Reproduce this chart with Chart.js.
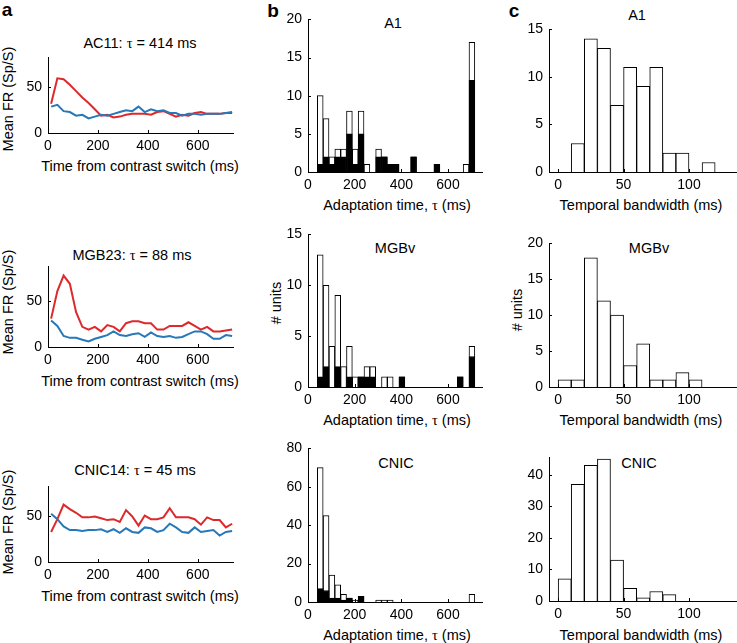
<!DOCTYPE html>
<html>
<head>
<meta charset="utf-8">
<script src="https://cdn.jsdelivr.net/npm/chart.js@4.4.1/dist/chart.umd.min.js"></script>
<style>
  body { margin: 0; background: #fff; }
  #fig { position: relative; width: 737px; height: 643px; overflow: hidden; font-family: "Liberation Sans", Arial, sans-serif; color: #000; }
  #fig canvas { position: absolute; }
  .t { position: absolute; transform: translate(-50%, -50%); white-space: nowrap; font-size: 14.5px; line-height: 1; }
  .v { transform: translate(-50%, -50%) rotate(-90deg); }
  .tau { font-family: "Liberation Serif", "Times New Roman", serif; }
  .lt { font-weight: bold; font-size: 19px; }
</style>
</head>
<body>
<div id="fig">
  <div class="t lt" style="left:7px;top:8.5px">a</div>
  <div class="t lt" style="left:273px;top:10px">b</div>
  <div class="t lt" style="left:514px;top:9.5px">c</div>

  <div class="t" style="left:140px;top:43px">AC11: <span class="tau">τ</span> = 414 ms</div>
  <div class="t" style="left:132px;top:255px">MGB23: <span class="tau">τ</span> = 88 ms</div>
  <div class="t" style="left:135px;top:470px">CNIC14: <span class="tau">τ</span> = 45 ms</div>
  <div class="t" style="left:140px;top:166px">Time from contrast switch (ms)</div>
  <div class="t" style="left:140px;top:381px">Time from contrast switch (ms)</div>
  <div class="t" style="left:140px;top:596px">Time from contrast switch (ms)</div>
  <div class="t v" style="left:7.5px;top:99px">Mean FR (Sp/S)</div>
  <div class="t v" style="left:7.5px;top:302px">Mean FR (Sp/S)</div>
  <div class="t v" style="left:7.5px;top:522px">Mean FR (Sp/S)</div>

  <div class="t" style="left:393px;top:23px">A1</div>
  <div class="t" style="left:395px;top:248px">MGBv</div>
  <div class="t" style="left:396px;top:463px">CNIC</div>
  <div class="t" style="left:397px;top:204.5px">Adaptation time, <span class="tau">τ</span> (ms)</div>
  <div class="t" style="left:397px;top:420px">Adaptation time, <span class="tau">τ</span> (ms)</div>
  <div class="t" style="left:397px;top:634.5px">Adaptation time, <span class="tau">τ</span> (ms)</div>
  <div class="t v" style="left:276px;top:303px"># units</div>

  <div class="t" style="left:637px;top:15px">A1</div>
  <div class="t" style="left:649px;top:248px">MGBv</div>
  <div class="t" style="left:639px;top:463px">CNIC</div>
  <div class="t" style="left:641px;top:204.5px">Temporal bandwidth (ms)</div>
  <div class="t" style="left:641px;top:420px">Temporal bandwidth (ms)</div>
  <div class="t" style="left:641px;top:634.5px">Temporal bandwidth (ms)</div>
  <div class="t v" style="left:517px;top:310px"># units</div>
</div>

<script>
// panel a: mean firing rate per 25 ms bin, high contrast (red) and low contrast (blue)
const timeBins = [12.5, 37.5, 62.5, 87.5, 112.5, 137.5, 162.5, 187.5, 212.5, 237.5,
  262.5, 287.5, 312.5, 337.5, 362.5, 387.5, 412.5, 437.5, 462.5, 487.5,
  512.5, 537.5, 562.5, 587.5, 612.5, 637.5, 662.5, 687.5, 712.5, 737.5];
const ac11High = [32, 60, 59, 53, 46, 39, 33, 26, 19, 20, 17, 18, 20, 21, 21, 21, 20, 23, 24, 21, 18, 20, 19, 22, 23, 21, 21, 21, 22, 22];
const ac11Low = [29, 31, 24, 23, 19, 20, 16, 18, 20, 19, 21, 23, 25, 24, 29, 23, 26, 24, 25, 22, 22, 19, 21, 21, 20, 21, 21, 21, 22, 23];
const mgb23High = [31, 61, 78, 69, 38, 22, 19, 22, 17, 24, 22, 17, 26, 28, 28, 26, 26, 19, 19, 23, 23, 23, 27, 23, 19, 22, 17, 17, 18, 19];
const mgb23Low = [29, 23, 12, 10, 10, 8, 6, 9, 11, 13, 17, 13, 12, 14, 15, 11, 16, 12, 11, 12, 10, 11, 14, 17, 17, 14, 9, 9, 13, 12];
const cnic14High = [33, 47, 63, 58, 54, 49, 49, 50, 48, 46, 47, 44, 57, 50, 40, 51, 47, 47, 49, 59, 49, 49, 49, 47, 41, 49, 46, 46, 38, 42];
const cnic14Low = [53, 47, 39, 35, 35, 34, 35, 35, 36, 33, 36, 32, 37, 33, 32, 38, 37, 33, 35, 42, 38, 33, 32, 38, 33, 34, 35, 29, 33, 34];

// panel b: adaptation time histograms, all units (open) and subset (filled)
const tauBins = [52.5, 77.5, 102.5, 127.5, 152.5, 177.5, 202.5, 227.5, 252.5, 277.5,
  302.5, 327.5, 352.5, 377.5, 402.5, 427.5, 452.5, 477.5, 502.5, 527.5,
  552.5, 577.5, 602.5, 627.5, 652.5, 677.5, 702.5];
const a1Tau = [10, 7, 2, 3, 3, 8, 3, 8, 1, 0, 3, 2, 1, 1, 0, 0, 2, 0, 0, 0, 1, 0, 0, 0, 0, 1, 17];
const a1TauFilled = [1, 2, 1, 2, 2, 5, 1, 5, 0, 0, 2, 2, 1, 1, 0, 0, 2, 0, 0, 0, 1, 0, 0, 0, 0, 0, 12];
const mgbTau = [13, 10, 4, 9, 2, 4, 1, 1, 2, 2, 0, 1, 1, 0, 1, 0, 0, 0, 0, 0, 0, 0, 0, 0, 1, 0, 4];
const mgbTauFilled = [1, 2, 0, 2, 0, 1, 0, 1, 1, 1, 0, 0, 0, 0, 1, 0, 0, 0, 0, 0, 0, 0, 0, 0, 1, 0, 3];
const cnicTau = [70, 45, 14, 9, 4, 2, 1, 3, 0, 0, 1, 1, 1, 0, 0, 0, 0, 0, 0, 0, 0, 0, 0, 0, 0, 0, 4];
const cnicTauFilled = [7, 6, 2, 2, 1, 2, 0, 3, 0, 0, 0, 0, 0, 0, 0, 0, 0, 0, 0, 0, 0, 0, 0, 0, 0, 0, 0];

// panel c: temporal bandwidth histograms, 10 ms bins
const bwBins = [5, 15, 25, 35, 45, 55, 65, 75, 85, 95, 105, 115];
const a1Bw = [0, 3, 14, 13, 7, 11, 9, 11, 2, 2, 0, 1];
const mgbBw = [1, 1, 18, 12, 10, 3, 6, 1, 1, 2, 1, 0];
const cnicBw = [7, 37, 43, 45, 13, 4, 1, 3, 2, 0, 0, 0];

// tick labels
const timeTicks = [0, 200, 400, 600];
const rateTicks = [0, 50];
const bwTicks = [0, 50, 100];

const RED = 'rgb(221, 41, 44)';
const BLUE = 'rgb(38, 120, 184)';
const YW = 34, XH = 24, PT = 10;
const tickFont = { family: '"Liberation Sans", Arial, sans-serif', size: 14 };

// small inward tick marks, matlab style
const inTicks = {
  id: 'inTicks',
  afterDraw(chart) {
    const { ctx, chartArea: a, scales: { x, y } } = chart;
    ctx.save();
    ctx.strokeStyle = '#000';
    ctx.lineWidth = 1;
    ctx.beginPath();
    x.ticks.forEach(t => {
      const px = Math.round(x.getPixelForValue(t.value)) + 0.5;
      ctx.moveTo(px, a.bottom); ctx.lineTo(px, a.bottom - 3);
    });
    y.ticks.forEach(t => {
      const py = Math.round(y.getPixelForValue(t.value)) + 0.5;
      ctx.moveTo(a.left, py); ctx.lineTo(a.left + 3, py);
    });
    ctx.stroke();
    ctx.restore();
  }
};

function axis(s, horiz) {
  return {
    type: 'linear', min: s.min, max: s.max, offset: false,
    grid: { display: false, drawTicks: false, offset: false },
    border: { display: true, color: '#000', width: 1 },
    ticks: { color: '#000', font: tickFont, padding: horiz ? 5 : 6, maxRotation: 0, autoSkip: false },
    afterBuildTicks: sc => { sc.ticks = s.ticks.map(v => ({ value: v })); },
    afterFit: sc => { if (horiz) sc.height = XH; else sc.width = YW; }
  };
}

function addChart(box, type, datasets, xs, ys) {
  const W = box.r - box.l + YW, H = box.b - box.t + PT + XH;
  const cv = document.createElement('canvas');
  cv.width = W; cv.height = H;
  cv.style.left = (box.l - YW) + 'px';
  cv.style.top = (box.t - PT) + 'px';
  document.getElementById('fig').appendChild(cv);
  return new Chart(cv, {
    type: type,
    data: { datasets: datasets },
    options: {
      responsive: false, animation: false, devicePixelRatio: 1,
      layout: { padding: { top: PT, right: 0, bottom: 0, left: 0 } },
      plugins: { legend: { display: false }, tooltip: { enabled: false } },
      scales: { x: axis(xs, true), y: axis(ys, false) }
    },
    plugins: [inTicks]
  });
}

function pts(xv, yv) {
  return xv.map((x, i) => ({ x: x, y: yv[i] }));
}
function barPts(xv, yv) {
  return xv.map((x, i) => ({ x: x, y: yv[i] ? yv[i] : null }));
}

function rateChart(box, ymax, high, low) {
  addChart(box, 'line', [
    { data: pts(timeBins, low), borderColor: BLUE, borderWidth: 2, pointRadius: 0, tension: 0, fill: false },
    { data: pts(timeBins, high), borderColor: RED, borderWidth: 2, pointRadius: 0, tension: 0, fill: false }
  ], { min: 0, max: 745, ticks: timeTicks }, { min: 0, max: ymax, ticks: rateTicks });
}

function barStyle(color) {
  return { backgroundColor: color, borderColor: '#000', borderWidth: 1,
    barPercentage: 1, categoryPercentage: 1, grouped: false };
}

function tauChart(box, ymax, yticks, total, filled) {
  addChart(box, 'bar', [
    Object.assign({ data: barPts(tauBins, filled) }, barStyle('#000')),
    Object.assign({ data: barPts(tauBins, total) }, barStyle('#fff'))
  ], { min: 0, max: 750, ticks: timeTicks }, { min: 0, max: ymax, ticks: yticks });
}

function bwChart(box, ymax, yticks, counts) {
  addChart(box, 'bar', [
    Object.assign({ data: barPts(bwBins, counts) }, barStyle('#fff'))
  ], { min: -7, max: 136.7, ticks: bwTicks }, { min: 0, max: ymax, ticks: yticks });
}

rateChart({ l: 48, r: 234, t: 53, b: 133 }, 83, ac11High, ac11Low);
rateChart({ l: 48, r: 234, t: 262, b: 347 }, 88, mgb23High, mgb23Low);
rateChart({ l: 48, r: 234, t: 482, b: 562 }, 83, cnic14High, cnic14Low);

tauChart({ l: 308, r: 483, t: 15, b: 172 }, 20, [0, 5, 10, 15, 20], a1Tau, a1TauFilled);
tauChart({ l: 308, r: 483, t: 230, b: 387 }, 15, [0, 5, 10, 15], mgbTau, mgbTauFilled);
tauChart({ l: 308, r: 483, t: 444, b: 602 }, 80, [0, 20, 40, 60, 80], cnicTau, cnicTauFilled);

bwChart({ l: 549, r: 737, t: 25, b: 172 }, 15, [0, 5, 10, 15], a1Bw);
bwChart({ l: 549, r: 737, t: 239, b: 387 }, 20, [0, 5, 10, 15, 20], mgbBw);
bwChart({ l: 549, r: 737, t: 453, b: 601 }, 45.5, [0, 10, 20, 30, 40], cnicBw);
</script>
</body>
</html>
